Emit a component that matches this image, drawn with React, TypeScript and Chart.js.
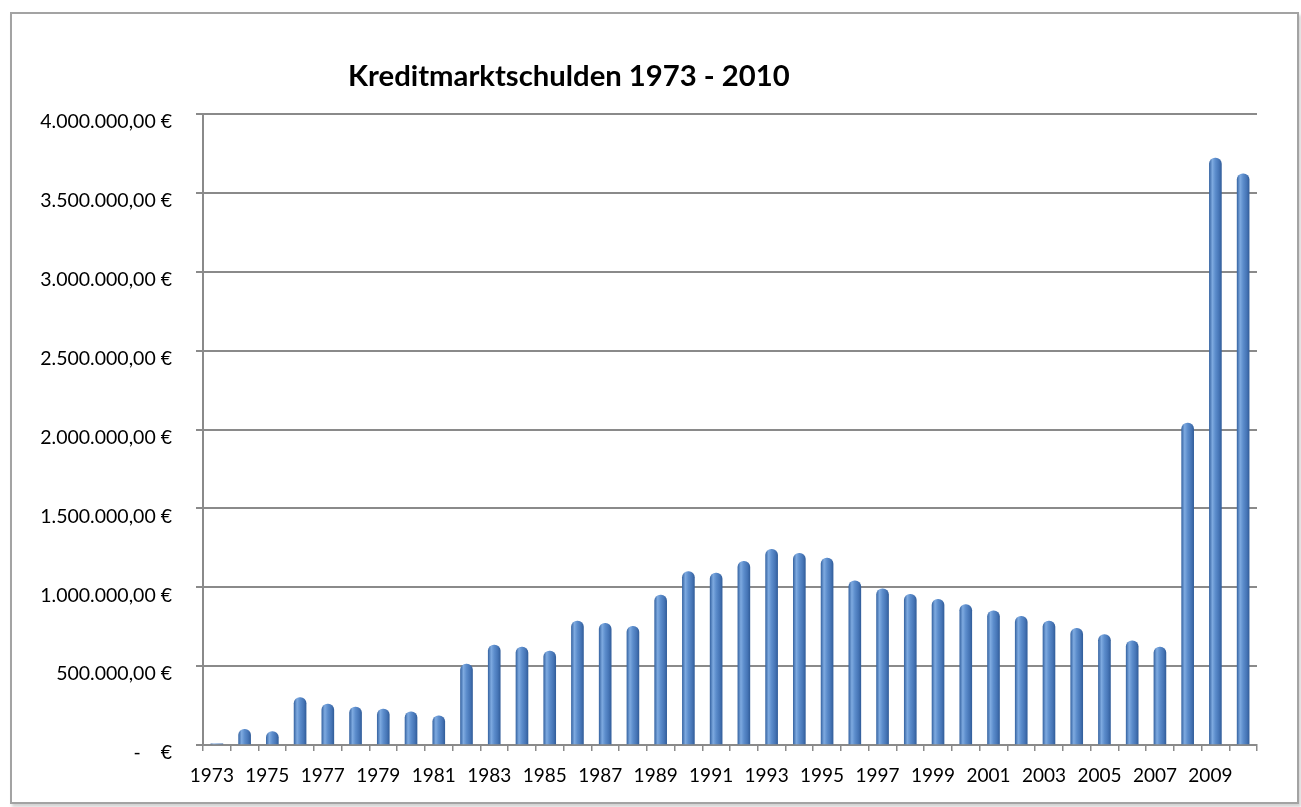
import React, { useEffect, useRef } from "react";
import { Chart, registerables } from "chart.js";

Chart.register(...registerables);

const titleText = "Kreditmarktschulden 1973 - 2010";

const years = [
  "1973", "1974", "1975", "1976", "1977", "1978", "1979", "1980", "1981", "1982",
  "1983", "1984", "1985", "1986", "1987", "1988", "1989", "1990", "1991", "1992",
  "1993", "1994", "1995", "1996", "1997", "1998", "1999", "2000", "2001", "2002",
  "2003", "2004", "2005", "2006", "2007", "2008", "2009", "2010",
];

const debtValues = [
  8000, 100000, 85000, 300000, 260000, 240000, 228000, 210000, 185000, 513000,
  633000, 620000, 595000, 785000, 772000, 753000, 950000, 1100000, 1090000, 1165000,
  1240000, 1215000, 1185000, 1040000, 990000, 955000, 924000, 890000, 850000, 815000,
  785000, 740000, 700000, 660000, 620000, 2040000, 3720000, 3620000,
];

const yMin = 0;
const yMax = 4000000;
const yStep = 500000;

function formatEuro(v: number): string {
  if (v === 0) return "-    €";
  const intPart = Math.round(v).toString().replace(/\B(?=(\d{3})+(?!\d))/g, ".");
  return intPart + ",00 €";
}

const titlePlugin = {
  id: "customTitle",
  afterDraw(chart: any) {
    const ctx = chart.ctx;
    ctx.save();
    let size = 26;
    ctx.font = `bold ${size}px Lato`;
    const w = ctx.measureText(titleText).width;
    size = (size * 442) / w;
    ctx.font = `bold ${size}px Lato`;
    ctx.fillStyle = "#000";
    ctx.textAlign = "left";
    ctx.textBaseline = "alphabetic";
    ctx.fillText(titleText, 348, 86);
    ctx.restore();
  },
};

const cylinderShade = {
  id: "cylinderShade",
  beforeDatasetsDraw(chart: any) {
    const ctx = chart.ctx;
    chart.data.datasets.forEach((_d: any, di: number) => {
      const meta = chart.getDatasetMeta(di);
      meta.data.forEach((el: any) => {
        const cx = el.x;
        const hw = (el.width || 12) / 2;
        if (!isFinite(cx) || !isFinite(hw)) return;
        const g = ctx.createLinearGradient(cx - hw, 0, cx + hw, 0);
        g.addColorStop(0, "#3a68a6");
        g.addColorStop(0.25, "#7eaae0");
        g.addColorStop(0.5, "#5c8dcc");
        g.addColorStop(0.8, "#4675b6");
        g.addColorStop(1, "#335f9c");
        el.options = Object.assign({}, el.options, { backgroundColor: g });
      });
    });
  },
};

export default function App() {
  const canvasRef = useRef<HTMLCanvasElement | null>(null);

  useEffect(() => {
    const canvas = canvasRef.current;
    if (!canvas) return;
    const gridColor = "#8a8a8a";
    const chart = new Chart(canvas, {
      type: "bar",
      data: {
        labels: years,
        datasets: [
          {
            data: debtValues,
            barThickness: 12,
            borderRadius: 6,
            borderSkipped: "start",
            backgroundColor: "#4f81bd",
          },
        ],
      },
      options: {
        responsive: false,
        animation: false,
        layout: { padding: { left: 0, top: 114, right: 44, bottom: 0 } },
        plugins: {
          legend: { display: false },
          tooltip: { enabled: false },
          title: { display: false },
        },
        scales: {
          x: {
            afterFit: (s: any) => {
              s.height = 62;
            },
            grid: {
              display: true,
              drawOnChartArea: false,
              drawTicks: true,
              tickLength: 6,
              color: gridColor,
              lineWidth: 1.5,
            },
            border: { display: true, color: gridColor, width: 2 },
            ticks: {
              autoSkip: false,
              maxRotation: 0,
              minRotation: 0,
              labelOffset: -5,
              padding: 13,
              color: "#000",
              font: { family: "Lato", size: 19 },
              callback: (_v: any, i: number) => (i % 2 === 0 ? years[i] : ""),
            },
          },
          y: {
            min: yMin,
            max: yMax,
            afterFit: (s: any) => {
              s.width = 203;
            },
            grid: {
              color: gridColor,
              lineWidth: 2,
              tickLength: 7,
              drawTicks: true,
            },
            border: { display: true, color: gridColor, width: 2 },
            ticks: {
              stepSize: yStep,
              padding: 24,
              labelOffset: 8,
              color: "#000",
              font: { family: "Lato", size: 19.5 },
              callback: (v: any) => formatEuro(Number(v)),
            },
          },
        },
      },
      plugins: [cylinderShade, titlePlugin],
    });
    return () => chart.destroy();
  }, []);

  return (
    <div style={{ position: "absolute", left: 0, top: 0, width: 1301, height: 807, background: "#fff" }}>
      <div
        style={{
          position: "absolute",
          left: 10,
          top: 12,
          width: 1289,
          height: 792,
          boxSizing: "border-box",
          border: "2px solid #a3a3a3",
          boxShadow: "2px 3px 3px rgba(0,0,0,0.18)",
          background: "#fff",
        }}
      />
      <canvas
        ref={canvasRef}
        width={1301}
        height={807}
        style={{ position: "absolute", left: 0, top: 0, width: 1301, height: 807 }}
      />
    </div>
  );
}
